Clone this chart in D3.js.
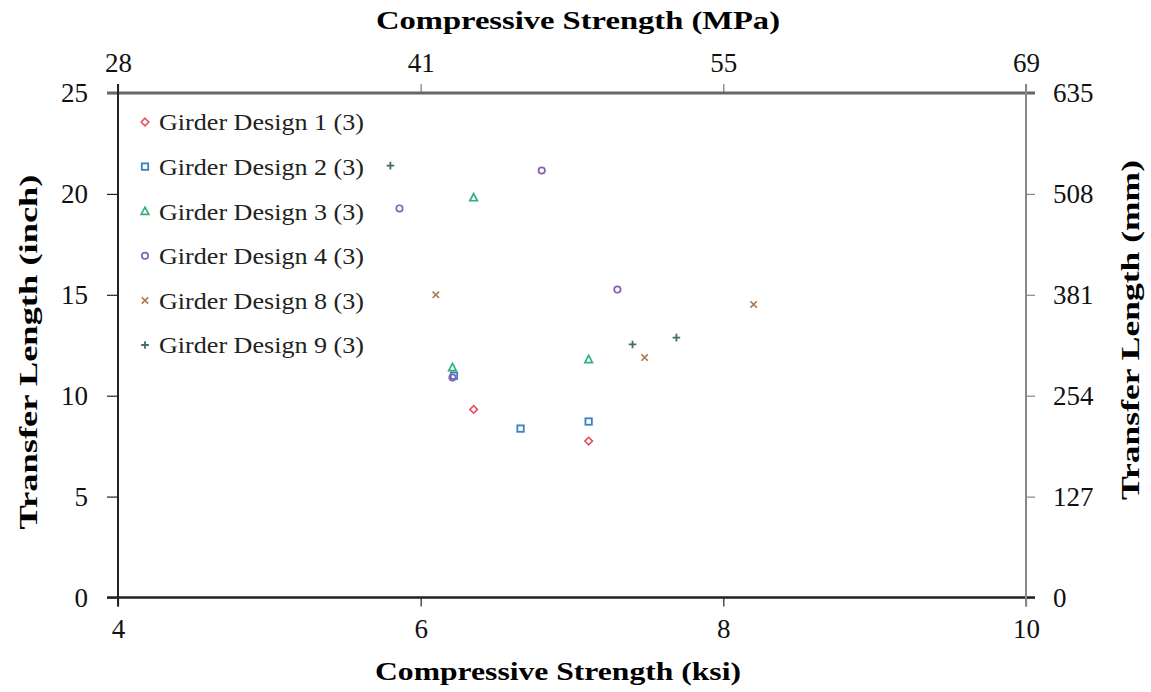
<!DOCTYPE html>
<html>
<head>
<meta charset="utf-8">
<script src="https://cdn.jsdelivr.net/npm/d3@7"></script>
<style>
  html, body { margin: 0; padding: 0; background: #fff; }
  svg { display: block; }
  text { font-family: "Liberation Serif", "Times New Roman", serif; }
</style>
</head>
<body>
<svg id="chart" width="1151" height="692"></svg>
<script>
// Compressive strength (ksi) vs. transfer length (inch), per girder design
const seriesNames = ["Girder Design 1 (3)", "Girder Design 2 (3)", "Girder Design 3 (3)",
                     "Girder Design 4 (3)", "Girder Design 8 (3)", "Girder Design 9 (3)"];
const design1 = [[6.35, 9.32], [7.11, 7.75]];
const design2 = [[6.66, 8.37], [7.11, 8.72], [6.22, 10.99]];
const design3 = [[6.35, 19.82], [6.21, 11.4], [7.11, 11.8]];
const design4 = [[6.80, 21.16], [5.86, 19.28], [7.30, 15.26], [6.21, 10.9]];
const design8 = [[6.10, 15.0], [7.48, 11.89], [8.20, 14.52]];
const design9 = [[5.80, 21.4], [7.40, 12.54], [7.69, 12.88]];
const seriesData = [design1, design2, design3, design4, design8, design9];
const seriesColors = ["#e5505e", "#3b7fc0", "#2db27a", "#8b5db8", "#a87a52", "#3f6d6a"];
const seriesShapes = ["diamond", "square", "triangle", "circle", "cross", "plus"];

const ksiTicks = [4, 6, 8, 10];
const inchTicks = [0, 5, 10, 15, 20, 25];
const mmTicks = [0, 127, 254, 381, 508, 635];
const KSI_TO_MPA = 6.895;

const svg = d3.select("#chart");
const L = 118, R = 1026, T = 93, B = 597.5;

const x = d3.scaleLinear().domain([4, 10]).range([L, R]);
const y = d3.scaleLinear().domain([0, 25]).range([B, T]);
const xMpa = d3.scaleLinear().domain([4 * KSI_TO_MPA, 10 * KSI_TO_MPA]).range([L, R]);
const yMm = d3.scaleLinear().domain([0, 635]).range([B, T]);

const tickFont = "27px";

function styleAxis(g, color, width) {
  g.select(".domain").remove();
  g.selectAll(".tick line").attr("stroke", color).attr("stroke-width", width);
  g.selectAll(".tick text")
    .attr("fill", "#111")
    .style("font-size", tickFont)
    .style("font-family", "'Liberation Serif', serif");
}

// bottom axis (ksi)
svg.append("g").attr("transform", `translate(0,${B})`)
  .call(d3.axisBottom(x).tickValues(ksiTicks).tickSize(9).tickPadding(12).tickFormat(d3.format("d")))
  .call(g => styleAxis(g, "#222", 1.2));

// top axis (MPa)
svg.append("g").attr("transform", `translate(0,${T})`)
  .call(d3.axisTop(xMpa).tickValues(ksiTicks.map(v => v * KSI_TO_MPA)).tickSize(9).tickPadding(12).tickFormat(d3.format(".0f")))
  .call(g => styleAxis(g, "#777", 1.2));

// left axis (inch)
svg.append("g").attr("transform", `translate(${L},0)`)
  .call(d3.axisLeft(y).tickValues(inchTicks).tickSize(11).tickPadding(19).tickFormat(d3.format("d")))
  .call(g => styleAxis(g, "#222", 1.2));

// right axis (mm)
svg.append("g").attr("transform", `translate(${R},0)`)
  .call(d3.axisRight(yMm).tickValues(mmTicks).tickSize(9).tickPadding(18).tickFormat(d3.format("d")))
  .call(g => styleAxis(g, "#888", 1.2));

// plot frame
svg.append("line").attr("x1", L - 11).attr("x2", R + 9).attr("y1", T).attr("y2", T)
  .attr("stroke", "#666").attr("stroke-width", 3);
svg.append("line").attr("x1", L - 11).attr("x2", R + 9).attr("y1", B).attr("y2", B)
  .attr("stroke", "#222").attr("stroke-width", 2.5);
svg.append("line").attr("x1", L).attr("x2", L).attr("y1", T - 9).attr("y2", B + 9)
  .attr("stroke", "#222").attr("stroke-width", 2);
svg.append("line").attr("x1", R).attr("x2", R).attr("y1", T - 9).attr("y2", B + 9)
  .attr("stroke", "#888").attr("stroke-width", 2);

// marker shapes
function drawMarker(g, shape, color, cx, cy) {
  const s = 3.2;
  if (shape === "diamond") {
    g.append("path").attr("d", `M${cx},${cy - s - 0.6}L${cx + s + 0.6},${cy}L${cx},${cy + s + 0.6}L${cx - s - 0.6},${cy}Z`)
      .attr("fill", "none").attr("stroke", color).attr("stroke-width", 1.6);
  } else if (shape === "square") {
    g.append("rect").attr("x", cx - s).attr("y", cy - s).attr("width", 2 * s).attr("height", 2 * s)
      .attr("fill", "none").attr("stroke", color).attr("stroke-width", 1.8);
  } else if (shape === "triangle") {
    g.append("path").attr("d", `M${cx},${cy - s - 0.8}L${cx + s + 0.6},${cy + s}L${cx - s - 0.6},${cy + s}Z`)
      .attr("fill", "none").attr("stroke", color).attr("stroke-width", 1.7);
  } else if (shape === "circle") {
    g.append("circle").attr("cx", cx).attr("cy", cy).attr("r", s)
      .attr("fill", "none").attr("stroke", color).attr("stroke-width", 1.7);
  } else if (shape === "cross") {
    g.append("path").attr("d", `M${cx - s},${cy - s}L${cx + s},${cy + s}M${cx + s},${cy - s}L${cx - s},${cy + s}`)
      .attr("stroke", color).attr("stroke-width", 1.6);
  } else if (shape === "plus") {
    g.append("path").attr("d", `M${cx - s - 0.6},${cy}L${cx + s + 0.6},${cy}M${cx},${cy - s - 0.6}L${cx},${cy + s + 0.6}`)
      .attr("stroke", color).attr("stroke-width", 1.8);
  }
}

// data points
const pts = svg.append("g");
seriesData.forEach((data, i) => {
  data.forEach(d => drawMarker(pts, seriesShapes[i], seriesColors[i], x(d[0]), y(d[1])));
});

// legend
const legend = svg.append("g");
seriesNames.forEach((name, i) => {
  const ly = 122 + i * 44.6;
  drawMarker(legend, seriesShapes[i], seriesColors[i], 145, ly);
  legend.append("text").attr("x", 159).attr("y", ly).attr("dy", "0.35em")
    .style("font-size", "24px").attr("fill", "#222")
    .attr("textLength", 205).attr("lengthAdjust", "spacingAndGlyphs")
    .text(name);
});

// axis titles
svg.append("text").attr("x", 578).attr("y", 29).attr("text-anchor", "middle")
  .style("font-size", "26px").style("font-weight", "bold")
  .attr("textLength", 404).attr("lengthAdjust", "spacingAndGlyphs")
  .text("Compressive Strength (MPa)");
svg.append("text").attr("x", 558).attr("y", 680).attr("text-anchor", "middle")
  .style("font-size", "26px").style("font-weight", "bold")
  .attr("textLength", 366).attr("lengthAdjust", "spacingAndGlyphs")
  .text("Compressive Strength (ksi)");
svg.append("text").attr("transform", "translate(37,352) rotate(-90)").attr("text-anchor", "middle")
  .style("font-size", "26px").style("font-weight", "bold")
  .attr("textLength", 355).attr("lengthAdjust", "spacingAndGlyphs")
  .text("Transfer Length (inch)");
svg.append("text").attr("transform", "translate(1139,330) rotate(-90)").attr("text-anchor", "middle")
  .style("font-size", "26px").style("font-weight", "bold")
  .attr("textLength", 340).attr("lengthAdjust", "spacingAndGlyphs")
  .text("Transfer Length (mm)");
</script>
</body>
</html>
